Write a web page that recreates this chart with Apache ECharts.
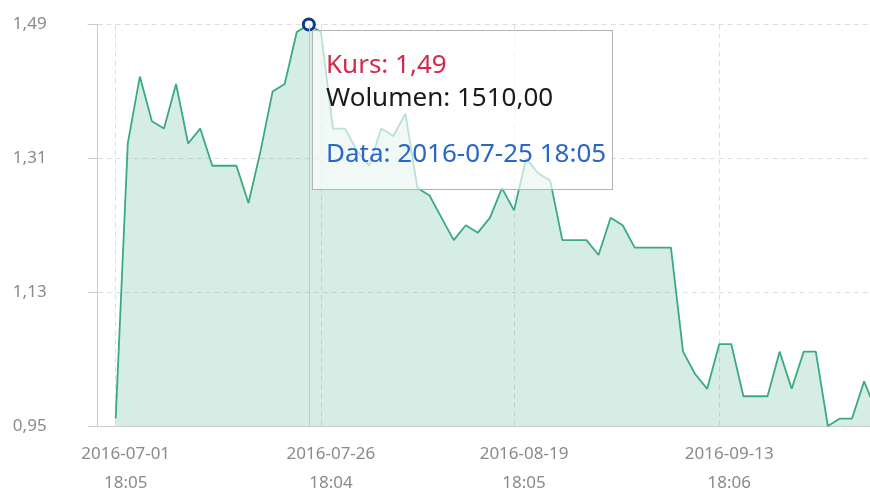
<!DOCTYPE html>
<html>
<head>
<meta charset="utf-8">
<script src="https://cdn.jsdelivr.net/npm/echarts@6/dist/echarts.min.js"></script>
<style>
  html, body { margin: 0; padding: 0; background: #fff; }
  #chart { width: 870px; height: 490px; }
</style>
</head>
<body>
<div id="chart"></div>
<script>
  // daty notowań (pierwsza kategoria pusta - odstęp od osi Y)
  var dates = ['',
    '2016-07-01 18:05', '2016-07-04 18:05', '2016-07-05 18:05', '2016-07-06 18:05', '2016-07-07 18:05',
    '2016-07-08 18:05', '2016-07-11 18:05', '2016-07-12 18:05', '2016-07-13 18:05', '2016-07-14 18:05',
    '2016-07-15 18:05', '2016-07-18 18:05', '2016-07-19 18:05', '2016-07-20 18:05', '2016-07-21 18:05',
    '2016-07-22 18:05', '2016-07-25 18:05', '2016-07-26 18:04', '2016-07-27 18:05', '2016-07-28 18:05',
    '2016-07-29 18:05', '2016-08-01 18:05', '2016-08-02 18:05', '2016-08-03 18:05', '2016-08-04 18:05',
    '2016-08-05 18:05', '2016-08-08 18:05', '2016-08-09 18:05', '2016-08-11 18:05', '2016-08-12 18:05',
    '2016-08-16 18:05', '2016-08-17 18:05', '2016-08-18 18:05', '2016-08-19 18:05', '2016-08-22 18:05',
    '2016-08-23 18:05', '2016-08-24 18:05', '2016-08-25 18:05', '2016-08-26 18:05', '2016-08-29 18:05',
    '2016-08-30 18:05', '2016-08-31 18:05', '2016-09-01 18:05', '2016-09-02 18:05', '2016-09-05 18:05',
    '2016-09-06 18:05', '2016-09-07 18:05', '2016-09-08 18:05', '2016-09-09 18:05', '2016-09-12 18:05',
    '2016-09-13 18:06', '2016-09-14 18:05', '2016-09-15 18:05', '2016-09-16 18:05', '2016-09-19 18:05',
    '2016-09-20 18:05', '2016-09-21 18:05', '2016-09-22 18:05', '2016-09-23 18:05', '2016-09-26 18:05',
    '2016-09-27 18:05', '2016-09-28 18:05', '2016-09-29 18:05', '2016-09-30 18:05'];

  // kurs
  var prices = [null,
    0.96, 1.33, 1.42, 1.36, 1.35, 1.41, 1.33, 1.35, 1.30, 1.30,
    1.30, 1.25, 1.32, 1.40, 1.41, 1.48, 1.49, 1.48, 1.35, 1.35,
    1.32, 1.30, 1.35, 1.34, 1.37, 1.27, 1.26, 1.23, 1.20, 1.22,
    1.21, 1.23, 1.27, 1.24, 1.31, 1.29, 1.28, 1.20, 1.20, 1.20,
    1.18, 1.23, 1.22, 1.19, 1.19, 1.19, 1.19, 1.05, 1.02, 1.00,
    1.06, 1.06, 0.99, 0.99, 0.99, 1.05, 1.00, 1.05, 1.05, 0.95,
    0.96, 0.96, 1.01, 0.97];

  // podpisy osi X
  var labelDates = ['2016-07-01 18:05', '2016-07-26 18:04', '2016-08-19 18:05', '2016-09-13 18:06'];
  // podpisy osi Y
  var yTicks = [0.95, 1.13, 1.31, 1.49];

  // punkt pokazany w dymku
  var tipDate = '2016-07-25 18:05';
  var tipVolume = 1510;

  function pl(v, d) {
    return v.toFixed(d).replace('.', ',');
  }
  function isLabel(i, v) {
    return labelDates.indexOf(v) >= 0;
  }

  var myChart = echarts.init(document.getElementById('chart'));

  var option = {
    animation: false,
    textStyle: { fontFamily: 'Noto Sans' },
    grid: { left: 97.6, right: -12.2, top: 24.5, bottom: 64, outerBoundsMode: 'none', containLabel: false },
    tooltip: {
      trigger: 'axis',
      alwaysShowContent: true,
      transitionDuration: 0,
      position: [312, 30],
      padding: [16, 4, 0, 13],
      backgroundColor: 'rgba(255,255,255,0.65)',
      borderColor: '#b4b4b4',
      borderWidth: 1,
      borderRadius: 0,
      extraCssText: 'box-shadow:none;width:301px;height:160px;box-sizing:border-box;border-radius:0;',
      textStyle: { fontFamily: 'Noto Sans', fontSize: 26 },
      axisPointer: {
        type: 'line',
        lineStyle: { color: '#c8c8c8', width: 1, type: 'solid' }
      },
      formatter: function (params) {
        var p = params[0];
        return '<div style="line-height:32.5px;color:#d3294e">Kurs: ' + pl(p.value, 2) + '</div>' +
          '<div style="line-height:32.5px;color:#1a1a1a">Wolumen: ' + pl(tipVolume, 2) + '</div>' +
          '<div style="height:24px"></div>' +
          '<div style="line-height:32.5px;color:#2a66c8">Data: ' + p.name + '</div>';
      }
    },
    xAxis: {
      type: 'category',
      data: dates,
      boundaryGap: true,
      axisLine: { lineStyle: { color: '#cccccc' } },
      axisTick: {
        alignWithLabel: true,
        interval: isLabel,
        length: 9,
        lineStyle: { color: '#cccccc' }
      },
      axisLabel: {
        interval: isLabel,
        formatter: function (v) { return v.replace(' ', '\n'); },
        color: '#8a8a8a',
        fontFamily: 'Noto Sans',
        fontSize: 17,
        lineHeight: 29,
        margin: 13.5,
        padding: [0, 0, 0, 20]
      },
      splitLine: {
        show: true,
        alignWithLabel: true,
        interval: isLabel,
        lineStyle: { color: '#dddddd', type: [5, 4] }
      }
    },
    yAxis: {
      type: 'value',
      min: 0.95,
      max: 1.49,
      axisLine: { show: true, lineStyle: { color: '#cccccc' } },
      axisTick: { show: true, length: 10, customValues: yTicks, lineStyle: { color: '#cccccc' } },
      axisLabel: {
        customValues: yTicks,
        formatter: function (v) { return pl(v, 2); },
        color: '#8a8a8a',
        fontFamily: 'Noto Sans',
        fontSize: 17,
        margin: 51
      },
      splitLine: { lineStyle: { color: '#dddddd', type: [5, 4] } }
    },
    series: [{
      name: 'Kurs',
      type: 'line',
      data: prices,
      showSymbol: false,
      symbol: 'circle',
      symbolSize: 11,
      lineStyle: { color: '#359c72', width: 1.8 },
      itemStyle: { color: '#359c72' },
      areaStyle: { color: '#3a9f78', opacity: 0.22 },
      emphasis: {
        scale: false,
        lineStyle: { width: 1.8 },
        itemStyle: { color: '#ffffff', borderColor: '#0b3d8f', borderWidth: 3 }
      }
    }]
  };

  myChart.setOption(option);

  // dymek dla 2016-07-25
  myChart.dispatchAction({ type: 'showTip', seriesIndex: 0, dataIndex: dates.indexOf(tipDate) });
</script>
</body>
</html>
